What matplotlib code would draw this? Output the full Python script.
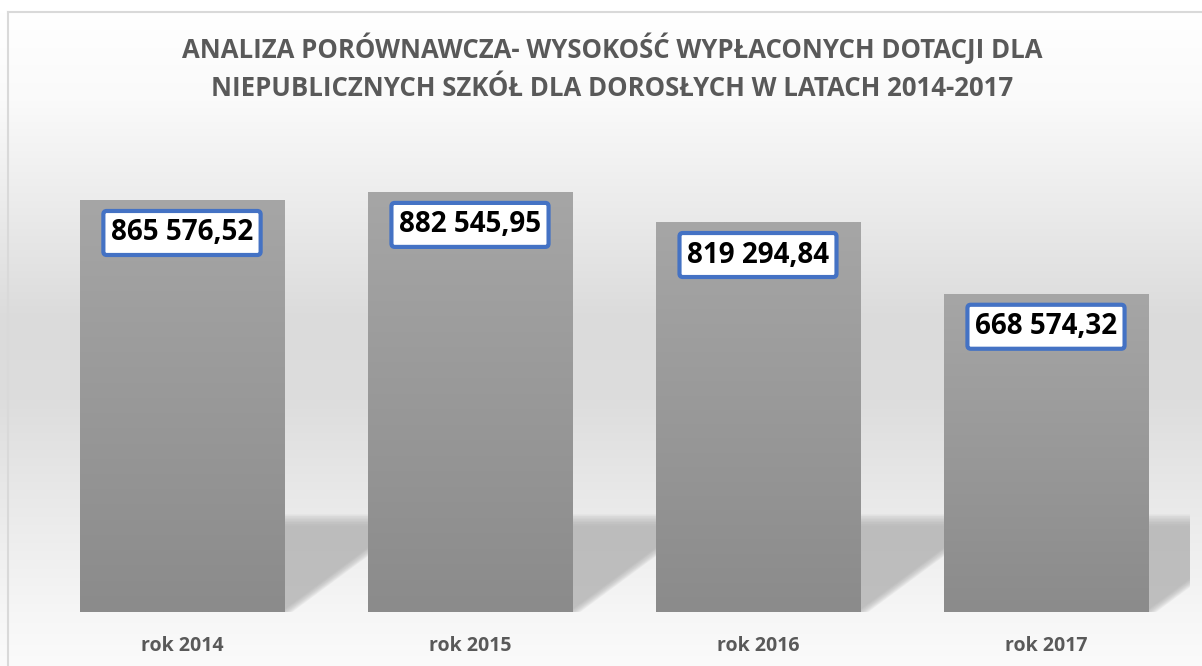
import numpy as np
import matplotlib as mpl
import matplotlib.pyplot as plt
from matplotlib.patches import Polygon

mpl.rcParams['font.family'] = ['Open Sans', 'DejaVu Sans']

years = ['rok 2014', 'rok 2015', 'rok 2016', 'rok 2017']
values = [865576.52, 882545.95, 819294.84, 668574.32]
labels = ['865 576,52', '882 545,95', '819 294,84', '668 574,32']

title1 = 'ANALIZA PORÓWNAWCZA- WYSOKOŚĆ WYPŁACONYCH DOTACJI DLA'
title2 = 'NIEPUBLICZNYCH SZKÓŁ DLA DOROSŁYCH W LATACH 2014-2017'

W, H = 1202, 666
fig = plt.figure(figsize=(W / 100, H / 100), dpi=100)

# background: vertical grey gradient (white top, darker middle, light floor)
bg = fig.add_axes([0, 0, 1, 1])
rows = np.arange(H)
stops_y = [0, 12, 100, 200, 320, 400, 490, 612, 666]
stops_v = [255, 255, 250, 236, 219, 221, 232, 246, 251]
g = np.interp(rows, stops_y, stops_v) / 255.0
img = np.repeat(g[:, None], 3, axis=1)[:, None, :]
bg.imshow(img, aspect='auto', extent=[0, W, H, 0])
bg.set_xlim(0, W)
bg.set_ylim(H, 0)
bg.axis('off')
# frame lines (left and top)
bg.plot([8, 8], [12, H], color='#d9d9d9', lw=1.5)
bg.plot([8, W], [12, 12], color='#d9d9d9', lw=1.5)

ax = fig.add_axes([38 / W, 54 / H, 1152 / W, 476 / H])
ax.patch.set_alpha(0)
x = np.arange(len(values))
bw = 0.71
ax.set_xlim(-0.5, len(values) - 0.5)
ax.set_ylim(0, 1000000)

# perspective shadows behind bars (soft edges via layered polygons)
px_x = 1 / 288.0        # data units per pixel (x)
px_y = 2100.0           # data units per pixel (y)
slope = 0.74 * px_y / px_x
y_top = 205000
n = 8
for xi in x:
    xr = xi + bw / 2
    for k in range(n):
        t = k * 1.6
        top = y_top - t * px_y
        x0 = xr + 8 * px_x - t * px_x
        x1 = x0 + top / slope
        poly = Polygon([(xr, 0), (xr, top), (x1, top), (x0, 0)],
                       closed=True, fc='#a8a8a8', ec='none', alpha=0.13, zorder=1)
        ax.add_patch(poly)

bars = ax.bar(x, values, width=bw, color='#999999', zorder=2)

# vertical gradient on each bar
grad = np.linspace(0xa6, 0x8b, 256) / 255.0
gimg = np.repeat(grad[:, None], 3, axis=1)[:, None, :]
for b in bars:
    x0, y0 = b.get_x(), b.get_y()
    im = ax.imshow(gimg, aspect='auto', zorder=3,
                   extent=[x0, x0 + b.get_width(), y0, y0 + b.get_height()])
    im.set_clip_path(b)
ax.set_xlim(-0.5, len(values) - 0.5)
ax.set_ylim(0, 1000000)

for xi, v, lab in zip(x, values, labels):
    ax.annotate(lab, (xi, v), xytext=(0, -33), textcoords='offset pixels',
                ha='center', va='center', fontsize=20, fontweight='bold',
                color='black', zorder=5,
                bbox=dict(boxstyle='round,pad=0.27,rounding_size=0.12',
                          fc='white', ec='#4472C4', lw=3))

ax.set_xticks(x)
ax.set_xticklabels(years, fontsize=14, fontweight='bold', color='#595959')
ax.tick_params(axis='x', length=0, pad=17)
ax.set_yticks([])
for s in ax.spines.values():
    s.set_visible(False)

fig.text(612 / W, 1 - 48 / H, title1, ha='center', va='center',
         fontsize=18.5, fontweight='bold', color='#595959')
fig.text(612 / W, 1 - 88 / H, title2, ha='center', va='center',
         fontsize=18.5, fontweight='bold', color='#595959')

fig.savefig('out.png', dpi=100)
